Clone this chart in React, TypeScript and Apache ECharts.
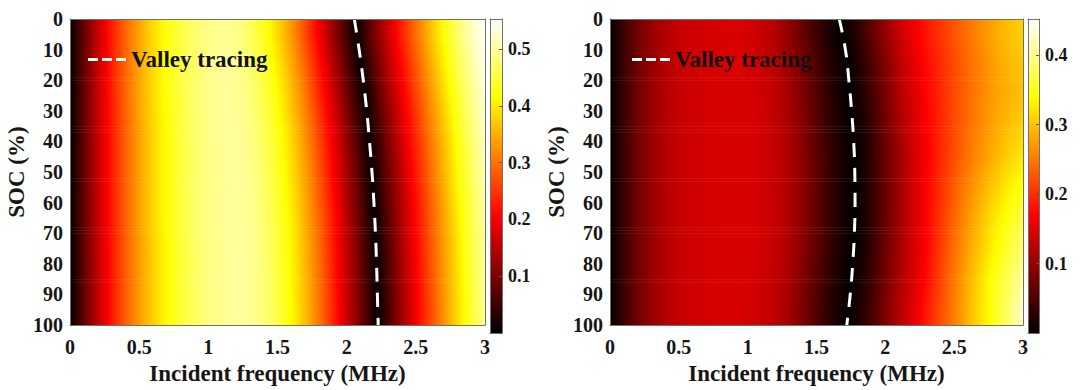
import React, { useEffect, useRef } from 'react';
import * as echarts from 'echarts';

// ---- sampling grid of the maps ----
const freqs = [0, 0.05, 0.1, 0.15, 0.2, 0.25, 0.3, 0.35, 0.4, 0.45, 0.5, 0.55, 0.6, 0.65, 0.7, 0.75, 0.8, 0.85, 0.9, 0.95,
  1, 1.05, 1.1, 1.15, 1.2, 1.25, 1.3, 1.35, 1.4, 1.45, 1.5, 1.55, 1.6, 1.65, 1.7, 1.75, 1.8, 1.85, 1.9, 1.95,
  2, 2.05, 2.1, 2.15, 2.2, 2.25, 2.3, 2.35, 2.4, 2.45, 2.5, 2.55, 2.6, 2.65, 2.7, 2.75, 2.8, 2.85, 2.9, 2.95, 3];
const socRows = [5, 15, 25, 35, 45, 55, 65, 75, 85, 95];
const socMin = 0;
const socMax = 100;

// ---- left map (values at each freq, per SOC row) ----
const leftSoc5 = [0, 0.04, 0.082, 0.122, 0.16, 0.196, 0.229, 0.26, 0.289, 0.316, 0.341, 0.364, 0.385, 0.404, 0.421, 0.436, 0.45, 0.462, 0.472, 0.481, 0.488,
  0.493, 0.495, 0.494, 0.488, 0.479, 0.466, 0.45, 0.431, 0.41, 0.385, 0.358, 0.33, 0.3, 0.268, 0.234, 0.199, 0.163, 0.126, 0.089, 0.052,
  0.015, 0.024, 0.062, 0.099, 0.134, 0.168, 0.202, 0.234, 0.266, 0.298, 0.328, 0.358, 0.388, 0.417, 0.444, 0.47, 0.493, 0.514, 0.533, 0.548];
const leftSoc15 = [0, 0.04, 0.082, 0.122, 0.16, 0.196, 0.229, 0.26, 0.289, 0.316, 0.341, 0.364, 0.385, 0.404, 0.421, 0.436, 0.45, 0.462, 0.472, 0.481, 0.488,
  0.493, 0.497, 0.497, 0.493, 0.485, 0.474, 0.46, 0.443, 0.423, 0.4, 0.375, 0.347, 0.318, 0.288, 0.255, 0.22, 0.185, 0.148, 0.111, 0.074,
  0.037, 0.004, 0.04, 0.077, 0.113, 0.148, 0.182, 0.215, 0.247, 0.279, 0.31, 0.34, 0.37, 0.4, 0.428, 0.455, 0.48, 0.502, 0.522, 0.54];
const leftSoc25 = [0, 0.04, 0.082, 0.122, 0.16, 0.196, 0.229, 0.26, 0.289, 0.316, 0.341, 0.364, 0.385, 0.404, 0.421, 0.436, 0.45, 0.462, 0.472, 0.481, 0.488,
  0.493, 0.497, 0.498, 0.495, 0.49, 0.481, 0.468, 0.453, 0.435, 0.414, 0.39, 0.364, 0.336, 0.306, 0.275, 0.241, 0.206, 0.17, 0.133, 0.096,
  0.059, 0.022, 0.016, 0.055, 0.091, 0.127, 0.162, 0.195, 0.228, 0.26, 0.291, 0.322, 0.352, 0.382, 0.411, 0.439, 0.465, 0.489, 0.51, 0.529];
const leftSoc35 = [0, 0.04, 0.081, 0.12, 0.158, 0.193, 0.226, 0.256, 0.285, 0.312, 0.337, 0.36, 0.381, 0.4, 0.417, 0.433, 0.447, 0.459, 0.47, 0.479, 0.486,
  0.492, 0.496, 0.498, 0.497, 0.493, 0.486, 0.475, 0.461, 0.445, 0.425, 0.402, 0.378, 0.35, 0.321, 0.291, 0.258, 0.224, 0.189, 0.152, 0.115,
  0.078, 0.041, 0.004, 0.036, 0.073, 0.109, 0.145, 0.179, 0.212, 0.244, 0.276, 0.307, 0.337, 0.367, 0.397, 0.425, 0.452, 0.478, 0.5, 0.52];
const leftSoc45 = [0, 0.04, 0.081, 0.12, 0.158, 0.193, 0.226, 0.256, 0.285, 0.312, 0.337, 0.36, 0.381, 0.4, 0.417, 0.433, 0.447, 0.459, 0.47, 0.479, 0.486,
  0.491, 0.495, 0.498, 0.499, 0.495, 0.489, 0.48, 0.467, 0.452, 0.433, 0.412, 0.388, 0.361, 0.333, 0.303, 0.272, 0.238, 0.203, 0.167, 0.13,
  0.093, 0.056, 0.019, 0.02, 0.059, 0.095, 0.131, 0.165, 0.199, 0.231, 0.263, 0.295, 0.325, 0.355, 0.385, 0.414, 0.442, 0.468, 0.491, 0.512];
const leftSoc55 = [0, 0.04, 0.081, 0.12, 0.158, 0.193, 0.226, 0.256, 0.285, 0.312, 0.337, 0.36, 0.381, 0.4, 0.417, 0.433, 0.447, 0.459, 0.47, 0.479, 0.486,
  0.491, 0.495, 0.498, 0.499, 0.496, 0.491, 0.483, 0.471, 0.457, 0.439, 0.418, 0.395, 0.369, 0.341, 0.312, 0.281, 0.248, 0.213, 0.178, 0.141,
  0.104, 0.067, 0.03, 0.008, 0.047, 0.084, 0.12, 0.155, 0.189, 0.221, 0.253, 0.285, 0.316, 0.346, 0.376, 0.406, 0.433, 0.46, 0.484, 0.506];
const leftSoc65 = [0, 0.04, 0.081, 0.12, 0.158, 0.193, 0.226, 0.256, 0.285, 0.312, 0.337, 0.36, 0.381, 0.4, 0.417, 0.433, 0.447, 0.459, 0.47, 0.479, 0.486,
  0.49, 0.495, 0.498, 0.499, 0.497, 0.493, 0.486, 0.475, 0.461, 0.445, 0.425, 0.402, 0.378, 0.35, 0.321, 0.291, 0.258, 0.224, 0.189, 0.152,
  0.115, 0.078, 0.041, 0.004, 0.036, 0.073, 0.109, 0.145, 0.179, 0.212, 0.244, 0.276, 0.307, 0.337, 0.367, 0.397, 0.425, 0.452, 0.478, 0.5];
const leftSoc75 = [0, 0.039, 0.079, 0.118, 0.155, 0.19, 0.222, 0.252, 0.281, 0.307, 0.332, 0.355, 0.376, 0.396, 0.413, 0.429, 0.443, 0.456, 0.467, 0.476, 0.484,
  0.49, 0.494, 0.497, 0.499, 0.498, 0.494, 0.487, 0.477, 0.464, 0.448, 0.428, 0.406, 0.382, 0.355, 0.326, 0.296, 0.264, 0.229, 0.195, 0.158,
  0.121, 0.084, 0.047, 0.01, 0.03, 0.067, 0.104, 0.139, 0.173, 0.206, 0.239, 0.271, 0.302, 0.332, 0.362, 0.392, 0.421, 0.448, 0.474, 0.496];
const leftSoc85 = [0, 0.039, 0.079, 0.118, 0.155, 0.19, 0.222, 0.252, 0.281, 0.307, 0.332, 0.355, 0.376, 0.396, 0.413, 0.429, 0.443, 0.456, 0.467, 0.476, 0.484,
  0.49, 0.494, 0.497, 0.499, 0.498, 0.495, 0.488, 0.478, 0.466, 0.45, 0.431, 0.41, 0.385, 0.358, 0.33, 0.3, 0.268, 0.234, 0.199, 0.163,
  0.126, 0.089, 0.052, 0.015, 0.024, 0.062, 0.099, 0.134, 0.168, 0.202, 0.234, 0.266, 0.298, 0.328, 0.358, 0.388, 0.417, 0.444, 0.47, 0.493];
const leftSoc95 = [0, 0.039, 0.079, 0.118, 0.155, 0.19, 0.222, 0.252, 0.281, 0.307, 0.332, 0.355, 0.376, 0.396, 0.413, 0.429, 0.443, 0.456, 0.467, 0.476, 0.484,
  0.49, 0.494, 0.497, 0.499, 0.498, 0.495, 0.489, 0.48, 0.467, 0.452, 0.433, 0.412, 0.388, 0.362, 0.333, 0.303, 0.272, 0.238, 0.203, 0.167,
  0.13, 0.093, 0.056, 0.019, 0.019, 0.058, 0.095, 0.13, 0.164, 0.198, 0.23, 0.262, 0.294, 0.324, 0.355, 0.384, 0.413, 0.441, 0.467, 0.491];

// ---- right map ----
const rightSoc5 = [0, 0.02, 0.04, 0.058, 0.074, 0.088, 0.1, 0.11, 0.118, 0.125, 0.13, 0.134, 0.137, 0.139, 0.141, 0.142, 0.143, 0.144, 0.144, 0.144,
  0.141, 0.137, 0.132, 0.126, 0.118, 0.108, 0.095, 0.082, 0.068, 0.054, 0.04, 0.028, 0.016, 0.006, 0.004, 0.015, 0.029, 0.046, 0.064, 0.082,
  0.099, 0.116, 0.132, 0.147, 0.16, 0.172, 0.183, 0.194, 0.205, 0.215, 0.225, 0.235, 0.245, 0.255, 0.264, 0.273, 0.282, 0.29, 0.297, 0.304, 0.31];
const rightSoc15 = [0, 0.02, 0.04, 0.058, 0.074, 0.088, 0.1, 0.11, 0.118, 0.125, 0.13, 0.134, 0.137, 0.139, 0.141, 0.142, 0.143, 0.144, 0.144, 0.144,
  0.142, 0.139, 0.135, 0.13, 0.123, 0.115, 0.104, 0.091, 0.078, 0.064, 0.05, 0.036, 0.024, 0.013, 0.005, 0.007, 0.019, 0.034, 0.051, 0.069,
  0.087, 0.104, 0.121, 0.136, 0.15, 0.163, 0.175, 0.186, 0.197, 0.208, 0.219, 0.229, 0.239, 0.249, 0.258, 0.267, 0.276, 0.284, 0.291, 0.297, 0.303];
const rightSoc25 = [0, 0.02, 0.04, 0.058, 0.074, 0.088, 0.1, 0.11, 0.118, 0.125, 0.13, 0.134, 0.137, 0.139, 0.141, 0.142, 0.143, 0.144, 0.144, 0.144,
  0.143, 0.14, 0.137, 0.132, 0.126, 0.119, 0.109, 0.097, 0.084, 0.07, 0.056, 0.042, 0.029, 0.017, 0.007, 0.003, 0.013, 0.028, 0.044, 0.062,
  0.08, 0.098, 0.115, 0.131, 0.145, 0.158, 0.171, 0.183, 0.195, 0.207, 0.218, 0.228, 0.238, 0.249, 0.259, 0.267, 0.275, 0.282, 0.288, 0.294, 0.3];
const rightSoc35 = [0, 0.02, 0.04, 0.058, 0.074, 0.088, 0.1, 0.11, 0.118, 0.125, 0.13, 0.134, 0.137, 0.139, 0.141, 0.142, 0.143, 0.144, 0.144, 0.144,
  0.143, 0.141, 0.138, 0.134, 0.128, 0.121, 0.112, 0.101, 0.088, 0.074, 0.06, 0.046, 0.033, 0.021, 0.01, 0.003, 0.009, 0.022, 0.037, 0.055,
  0.074, 0.092, 0.109, 0.125, 0.14, 0.154, 0.168, 0.181, 0.194, 0.207, 0.219, 0.23, 0.241, 0.252, 0.262, 0.272, 0.281, 0.289, 0.297, 0.304, 0.31];
const rightSoc45 = [0, 0.02, 0.04, 0.058, 0.074, 0.088, 0.1, 0.11, 0.118, 0.125, 0.13, 0.134, 0.137, 0.139, 0.141, 0.142, 0.143, 0.144, 0.144, 0.144,
  0.143, 0.141, 0.139, 0.135, 0.13, 0.123, 0.114, 0.104, 0.091, 0.077, 0.063, 0.049, 0.036, 0.024, 0.012, 0.004, 0.006, 0.019, 0.034, 0.051,
  0.069, 0.088, 0.105, 0.122, 0.137, 0.152, 0.166, 0.18, 0.194, 0.208, 0.221, 0.234, 0.246, 0.258, 0.269, 0.28, 0.29, 0.3, 0.309, 0.317, 0.325];
const rightSoc55 = [0, 0.02, 0.04, 0.058, 0.074, 0.088, 0.1, 0.11, 0.118, 0.125, 0.13, 0.134, 0.137, 0.139, 0.141, 0.142, 0.143, 0.144, 0.144, 0.144,
  0.143, 0.141, 0.139, 0.135, 0.13, 0.124, 0.115, 0.105, 0.092, 0.079, 0.064, 0.05, 0.037, 0.025, 0.013, 0.005, 0.005, 0.018, 0.033, 0.05,
  0.068, 0.087, 0.105, 0.122, 0.138, 0.153, 0.168, 0.184, 0.2, 0.215, 0.23, 0.244, 0.258, 0.271, 0.284, 0.296, 0.307, 0.318, 0.328, 0.337, 0.345];
const rightSoc65 = [0, 0.02, 0.04, 0.058, 0.074, 0.088, 0.1, 0.11, 0.118, 0.125, 0.13, 0.134, 0.137, 0.139, 0.141, 0.142, 0.143, 0.144, 0.144, 0.144,
  0.143, 0.141, 0.139, 0.135, 0.13, 0.124, 0.115, 0.105, 0.092, 0.079, 0.064, 0.05, 0.037, 0.025, 0.013, 0.005, 0.005, 0.018, 0.033, 0.05,
  0.068, 0.087, 0.105, 0.122, 0.138, 0.153, 0.17, 0.187, 0.204, 0.221, 0.237, 0.253, 0.268, 0.283, 0.297, 0.311, 0.324, 0.336, 0.348, 0.359, 0.37];
const rightSoc75 = [0, 0.02, 0.04, 0.058, 0.074, 0.088, 0.1, 0.11, 0.118, 0.125, 0.13, 0.134, 0.137, 0.139, 0.141, 0.142, 0.143, 0.144, 0.144, 0.144,
  0.143, 0.141, 0.139, 0.135, 0.129, 0.122, 0.113, 0.103, 0.09, 0.076, 0.062, 0.048, 0.035, 0.023, 0.012, 0.004, 0.007, 0.02, 0.036, 0.053,
  0.072, 0.09, 0.107, 0.124, 0.14, 0.155, 0.172, 0.19, 0.208, 0.226, 0.243, 0.26, 0.276, 0.292, 0.307, 0.322, 0.336, 0.35, 0.364, 0.377, 0.39];
const rightSoc85 = [0, 0.02, 0.04, 0.058, 0.074, 0.088, 0.1, 0.11, 0.118, 0.125, 0.13, 0.134, 0.137, 0.139, 0.141, 0.142, 0.143, 0.144, 0.144, 0.144,
  0.142, 0.14, 0.137, 0.133, 0.127, 0.12, 0.111, 0.099, 0.086, 0.072, 0.058, 0.044, 0.031, 0.019, 0.009, 0.002, 0.011, 0.025, 0.04, 0.058,
  0.077, 0.095, 0.112, 0.128, 0.143, 0.158, 0.175, 0.194, 0.213, 0.232, 0.25, 0.268, 0.285, 0.302, 0.318, 0.334, 0.349, 0.364, 0.379, 0.394, 0.41];
const rightSoc95 = [0, 0.02, 0.04, 0.058, 0.074, 0.088, 0.1, 0.11, 0.118, 0.125, 0.13, 0.134, 0.137, 0.139, 0.141, 0.142, 0.143, 0.144, 0.144, 0.144,
  0.141, 0.139, 0.136, 0.132, 0.125, 0.117, 0.107, 0.095, 0.081, 0.067, 0.053, 0.039, 0.026, 0.015, 0.005, 0.005, 0.016, 0.031, 0.048, 0.066,
  0.084, 0.102, 0.119, 0.135, 0.15, 0.168, 0.186, 0.203, 0.22, 0.237, 0.254, 0.271, 0.289, 0.306, 0.322, 0.338, 0.355, 0.372, 0.389, 0.408, 0.43];

const leftRows = [leftSoc5, leftSoc15, leftSoc25, leftSoc35, leftSoc45, leftSoc55, leftSoc65, leftSoc75, leftSoc85, leftSoc95];
const rightRows = [rightSoc5, rightSoc15, rightSoc25, rightSoc35, rightSoc45, rightSoc55, rightSoc65, rightSoc75, rightSoc85, rightSoc95];

// ---- valley tracing ----
const valleySoc = [0, 10, 20, 30, 40, 50, 60, 70, 80, 90, 100];
const valleyFreqLeft = [2.055, 2.09, 2.12, 2.145, 2.165, 2.183, 2.197, 2.208, 2.216, 2.222, 2.228];
const valleyFreqRight = [1.665, 1.71, 1.735, 1.755, 1.77, 1.778, 1.78, 1.775, 1.763, 1.745, 1.72];

// ---- colour scales and texts ----
const leftColorMax = 0.553;
const rightColorMax = 0.452;
const colorbarTickStep = 0.1;
const legendLabel = 'Valley tracing';
const xTitle = 'Incident frequency (MHz)';
const yTitle = 'SOC (%)';

const FONT = 'Liberation Serif';
const TXT = '#161616';

function hot(t: number): string {
  const c = Math.max(0, Math.min(1, t));
  const r = Math.min(1, c / 0.375);
  const g = Math.max(0, Math.min(1, (c - 0.375) / 0.375));
  const b = Math.max(0, Math.min(1, (c - 0.75) / 0.25));
  return `rgb(${Math.round(r * 255)},${Math.round(g * 255)},${Math.round(b * 255)})`;
}

// gradient stops along the frequency axis for one row of values
function rowStops(vals: number[], vmax: number) {
  const f0 = freqs[0];
  const span = freqs[freqs.length - 1] - f0;
  const kinks = [0.375 * vmax, 0.75 * vmax];
  const stops: { offset: number; color: string }[] = [];
  for (let i = 0; i < freqs.length; i++) {
    const o = (freqs[i] - f0) / span;
    stops.push({ offset: o, color: hot(vals[i] / vmax) });
    if (i < freqs.length - 1) {
      const v0 = vals[i];
      const v1 = vals[i + 1];
      const o1 = (freqs[i + 1] - f0) / span;
      const mids: { offset: number; color: string }[] = [];
      kinks.forEach((k) => {
        if ((k - v0) * (k - v1) < 0) mids.push({ offset: o + ((k - v0) / (v1 - v0)) * (o1 - o), color: hot(k / vmax) });
      });
      mids.sort((a, b) => a.offset - b.offset);
      mids.forEach((m) => stops.push(m));
    }
  }
  return stops;
}

// one item per band between two sampled SOC rows: [fStart, fEnd, socTop, socBottom, rowTop, rowBottom]
function bandData(rows: number[][]) {
  const fS = freqs[0];
  const fE = freqs[freqs.length - 1];
  const last = rows.length - 1;
  const out: number[][] = [[fS, fE, socMin, socRows[0], 0, 0]];
  for (let r = 0; r < last; r++) out.push([fS, fE, socRows[r], socRows[r + 1], r, r + 1]);
  out.push([fS, fE, socRows[last], socMax, last, last]);
  return out;
}

// smooth ("interp") shading of each band
const renderHeat = (rows: number[][], vmax: number) => (_p: any, api: any) => {
  const a = api.coord([api.value(0), api.value(2)]);
  const b = api.coord([api.value(1), api.value(3)]);
  const x = Math.min(a[0], b[0]);
  const y = Math.min(a[1], b[1]);
  const w = Math.abs(b[0] - a[0]);
  const h = Math.abs(b[1] - a[1]);
  const top = rows[api.value(4)];
  const bot = rows[api.value(5)];
  const same = api.value(4) === api.value(5);
  const n = same ? 1 : Math.max(1, Math.round(h / 3));
  const children: any[] = [];
  for (let k = 0; k < n; k++) {
    const t = same ? 0 : (k + 0.5) / n;
    const vals = top.map((v, i) => v + (bot[i] - v) * t);
    children.push({
      type: 'rect',
      shape: { x, y: y + (k * h) / n, width: w, height: h / n + 0.6 },
      style: { fill: new echarts.graphic.LinearGradient(0, 0, 1, 0, rowStops(vals, vmax)) },
      silent: true,
    });
  }
  return { type: 'group', children };
};

const renderBar = (_p: any, api: any) => {
  const a = api.coord([api.value(0), api.value(2)]);
  const b = api.coord([api.value(1), api.value(3)]);
  return {
    type: 'rect',
    shape: { x: Math.min(a[0], b[0]), y: Math.min(a[1], b[1]), width: Math.abs(b[0] - a[0]), height: Math.abs(b[1] - a[1]) },
    style: {
      fill: new echarts.graphic.LinearGradient(0, 1, 0, 0, [
        { offset: 0, color: '#000000' },
        { offset: 0.375, color: '#ff0000' },
        { offset: 0.75, color: '#ffff00' },
        { offset: 1, color: '#ffffff' },
      ]),
    },
    silent: true,
  };
};

const lineOnly = () => ({ show: true, onZero: false, lineStyle: { color: '#707070', width: 1 } });

function buildOption() {
  const grids = [
    { left: 70, top: 19, width: 415, height: 314 },
    { left: 490, top: 19, width: 12, height: 314 },
    { left: 610, top: 19, width: 413, height: 314 },
    { left: 1028, top: 19, width: 11, height: 314 },
  ];
  const xAxis: any[] = [];
  const yAxis: any[] = [];
  const tickFont = () => ({ fontFamily: FONT, fontSize: 20, fontWeight: 'bold', color: TXT });
  const titleFont = () => ({ fontFamily: FONT, fontSize: 23, fontWeight: 'bold', color: TXT });

  const addMain = (g: number) => {
    xAxis.push({
      gridIndex: g, type: 'value', min: 0, max: 3, interval: 0.5, position: 'bottom', z: 10,
      axisLine: lineOnly(), axisTick: { show: false }, splitLine: { show: false },
      axisLabel: { ...tickFont(), margin: 12 },
      name: xTitle, nameLocation: 'middle', nameGap: 35, nameTextStyle: titleFont(),
    });
    xAxis.push({
      gridIndex: g, type: 'value', min: 0, max: 3, position: 'top', z: 10,
      axisLine: lineOnly(), axisTick: { show: false }, splitLine: { show: false }, axisLabel: { show: false },
    });
    yAxis.push({
      gridIndex: g, type: 'value', min: 0, max: 100, interval: 10, inverse: true, position: 'left', z: 10,
      axisLine: lineOnly(), axisTick: { show: false }, splitLine: { show: false },
      axisLabel: { ...tickFont(), margin: 7 },
      name: yTitle, nameLocation: 'middle', nameGap: 42, nameRotate: 90, nameTextStyle: titleFont(),
    });
    yAxis.push({
      gridIndex: g, type: 'value', min: 0, max: 100, inverse: true, position: 'right', z: 10,
      axisLine: lineOnly(), axisTick: { show: false }, splitLine: { show: false }, axisLabel: { show: false },
    });
  };
  const addBar = (g: number, vmax: number) => {
    xAxis.push({ gridIndex: g, type: 'value', min: 0, max: 1, position: 'bottom', z: 10, axisLine: lineOnly(), axisTick: { show: false }, splitLine: { show: false }, axisLabel: { show: false } });
    xAxis.push({ gridIndex: g, type: 'value', min: 0, max: 1, position: 'top', z: 10, axisLine: lineOnly(), axisTick: { show: false }, splitLine: { show: false }, axisLabel: { show: false } });
    yAxis.push({ gridIndex: g, type: 'value', min: 0, max: vmax, position: 'left', z: 10, axisLine: lineOnly(), axisTick: { show: false }, splitLine: { show: false }, axisLabel: { show: false } });
    yAxis.push({
      gridIndex: g, type: 'value', min: 0, max: vmax, interval: colorbarTickStep, position: 'right', z: 10,
      axisLine: lineOnly(), splitLine: { show: false },
      axisTick: { show: true, inside: true, length: 3, lineStyle: { color: '#555' } },
      axisLabel: {
        fontFamily: FONT, fontSize: 18, fontWeight: 'bold', color: TXT, margin: 6, showMaxLabel: false,
        formatter: (v: number) => {
          const k = v / colorbarTickStep;
          return v > 0 && Math.abs(k - Math.round(k)) < 1e-6 ? v.toFixed(1) : '';
        },
      },
    });
  };
  addMain(0);
  addBar(1, leftColorMax);
  addMain(2);
  addBar(3, rightColorMax);

  const valleyLine = (freqsV: number[], xi: number, yi: number) => ({
    type: 'line', name: legendLabel, xAxisIndex: xi, yAxisIndex: yi, smooth: true, symbol: 'none', z: 5,
    color: '#ffffff',
    lineStyle: { color: '#ffffff', width: 3, type: [14, 11] },
    data: valleySoc.map((s, i) => [freqsV[i], s]),
  });

  const legendCommon = () => ({
    data: [legendLabel], top: 48, padding: 0, itemWidth: 38, itemHeight: 3,
    icon: 'path://M0,0H10V3H0Z M14,0H24V3H14Z M28,0H38V3H28Z',
    itemStyle: { color: '#ffffff' },
    textStyle: { fontFamily: FONT, fontSize: 23, fontWeight: 'bold', color: '#111' },
    selectedMode: false,
  });

  return {
    animation: false,
    textStyle: { fontFamily: FONT },
    grid: grids,
    xAxis,
    yAxis,
    legend: [
      { ...legendCommon(), left: 88 },
      { ...legendCommon(), left: 632 },
    ],
    series: [
      {
        type: 'custom', xAxisIndex: 0, yAxisIndex: 0, clip: true, z: 2,
        encode: { x: [0, 1], y: [2, 3] }, renderItem: renderHeat(leftRows, leftColorMax), data: bandData(leftRows),
      },
      valleyLine(valleyFreqLeft, 0, 0),
      {
        type: 'custom', xAxisIndex: 2, yAxisIndex: 2, z: 2,
        encode: { x: [0, 1], y: [2, 3] }, renderItem: renderBar, data: [[0, 1, 0, leftColorMax]],
      },
      {
        type: 'custom', xAxisIndex: 4, yAxisIndex: 4, clip: true, z: 2,
        encode: { x: [0, 1], y: [2, 3] }, renderItem: renderHeat(rightRows, rightColorMax), data: bandData(rightRows),
      },
      valleyLine(valleyFreqRight, 4, 4),
      {
        type: 'custom', xAxisIndex: 6, yAxisIndex: 6, z: 2,
        encode: { x: [0, 1], y: [2, 3] }, renderItem: renderBar, data: [[0, 1, 0, rightColorMax]],
      },
    ],
  };
}

const fontCss = '.soc-chart svg text, .soc-chart svg tspan { font-family: "Liberation Serif", serif !important; font-weight: bold !important; }';

export default function App() {
  const ref = useRef<HTMLDivElement>(null);
  useEffect(() => {
    if (!ref.current) return;
    const chart = echarts.init(ref.current, undefined, { renderer: 'svg' });
    chart.setOption(buildOption() as any);
    return () => chart.dispose();
  }, []);
  return (
    <>
      <style>{fontCss}</style>
      <div ref={ref} className="soc-chart" style={{ position: 'absolute', left: 0, top: 0, width: 1080, height: 390 }} />
    </>
  );
}
